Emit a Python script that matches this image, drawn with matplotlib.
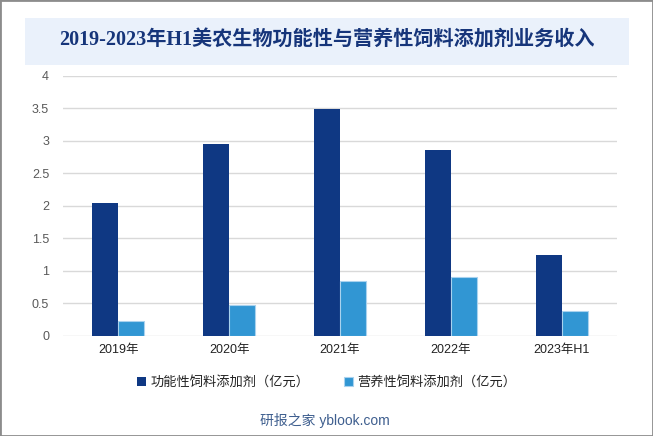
import matplotlib
matplotlib.use("Agg")
import matplotlib.pyplot as plt
import numpy as np
from matplotlib.patches import Rectangle

plt.rcParams["font.family"] = ["Liberation Sans", "Noto Sans CJK SC", "DejaVu Sans"]

years = ["2019年", "2020年", "2021年", "2022年", "2023年H1"]
functional = [2.05, 2.95, 3.49, 2.86, 1.25]
nutritional = [0.23, 0.48, 0.84, 0.91, 0.39]
series_names = ["功能性饲料添加剂（亿元）", "营养性饲料添加剂（亿元）"]
yticks = [0, 0.5, 1, 1.5, 2, 2.5, 3, 3.5, 4]
yticklabels = ["0", "0.5", "1", "1.5", "2", "2.5", "3", "3.5", "4"]
title = "2019-2023年H1美农生物功能性与营养性饲料添加剂业务收入"

dark = "#0F3883"
light = "#3196D3"

fig = plt.figure(figsize=(6.53, 4.36), dpi=100)
ax = fig.add_axes([0.0965, 0.2294, 0.8485, 0.5963])

x = np.arange(len(years))
w = 0.235
ax.bar(x - w / 2, functional, w, color=dark, label=series_names[0], zorder=3)
ax.bar(x + w / 2, nutritional, w, color=light, edgecolor="#A9D2EE",
       linewidth=0.8, label=series_names[1], zorder=3)

ax.set_xlim(-0.5, len(years) - 0.5)
ax.set_ylim(0, 4)
ax.set_yticks(yticks)
ax.set_yticklabels(yticklabels)
ax.set_xticks(x)
ax.set_xticklabels(years)
ax.tick_params(axis="y", length=0, pad=10, labelsize=9, labelcolor="#595959")
ax.tick_params(axis="x", length=0, pad=6, labelsize=9, labelcolor="#222222")
ax.grid(axis="y", color="#D9D9D9", linewidth=1, zorder=0)
for s in ax.spines.values():
    s.set_visible(False)

leg = fig.legend(loc="center", bbox_to_anchor=(0.5, 0.123), ncol=2, frameon=False,
                 fontsize=9.5, handlelength=0.7, handleheight=0.7, handletextpad=0.3,
                 columnspacing=2.6)
for t in leg.get_texts():
    t.set_color("#222222")

# title box
fig.patches.append(Rectangle((25 / 653, 1 - 64.6 / 436), 604 / 653, 47 / 436,
                             transform=fig.transFigure, facecolor="#EAF1FB",
                             edgecolor="none", zorder=0))
fig.text(0.5, 1 - 41 / 436, title, ha="center", va="center", fontsize=14.5,
         fontweight="bold", color="#16357A",
         family=["Liberation Serif", "Noto Sans CJK SC"])

fig.text(325 / 653, 1 - 420 / 436, "研报之家 yblook.com", ha="center", va="center",
         fontsize=10, color="#3F5F8F")

# outer border
fig.patches.append(Rectangle((0, 0), 1, 1, transform=fig.transFigure,
                             facecolor="none", edgecolor="#8C8C8C", linewidth=2))

fig.savefig("out.png", dpi=100)
